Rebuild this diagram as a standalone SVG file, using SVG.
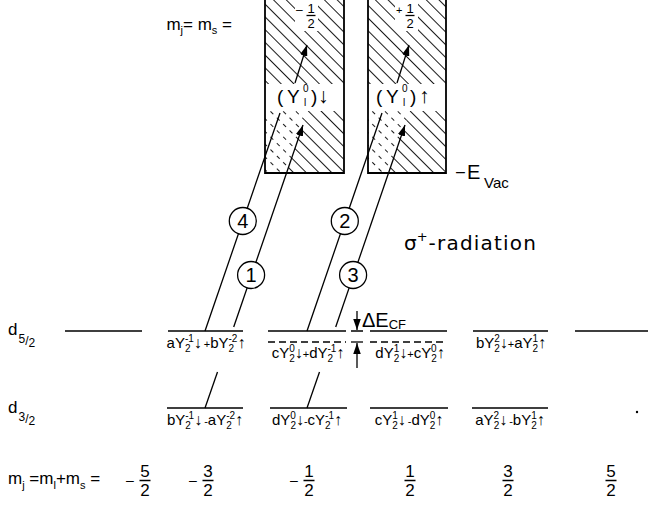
<svg xmlns="http://www.w3.org/2000/svg" width="648" height="506" viewBox="0 0 648 506">
<defs>
<pattern id="h" patternUnits="userSpaceOnUse" width="9" height="9" patternTransform="rotate(-45)"><line x1="4.5" y1="0" x2="4.5" y2="9" stroke="#000" stroke-width="0.9"/></pattern>
<pattern id="hd" patternUnits="userSpaceOnUse" width="9" height="9" patternTransform="rotate(-45)"><line x1="4.5" y1="0" x2="4.5" y2="4" stroke="#000" stroke-width="0.9"/></pattern>
<marker id="ah" viewBox="0 0 11 7.5" refX="11" refY="3.75" markerWidth="11" markerHeight="7.5" markerUnits="userSpaceOnUse" orient="auto"><path d="M0,0L11,3.75L0,7.5z" fill="#000"/></marker>
</defs>
<style>
.ln{stroke:#000;stroke-width:1.3;fill:none}
.box{stroke:#000;stroke-width:1.8;fill:none}
.t{font-family:"Liberation Sans",Arial,sans-serif;fill:#000}
.lb{font-size:15px}
.s{font-size:10px}
.ar{font-size:16px;font-weight:bold}
.pl{font-size:11px}
.big{font-size:17px}
.sb{font-size:11px}
.fr{font-size:17px}
.num{font-size:20px}
.rad{font-family:"DejaVu Sans",sans-serif;font-size:20px;fill:#000}
.circ{fill:#fff;stroke:#000;stroke-width:1.3}
</style>
<rect width="648" height="506" fill="#fff"/>

<g id="continuum-spin-down">
<rect x="265" y="0" width="79" height="84" fill="url(#h)"/>
<polygon points="265,111 307.9,111 286.4,173 265,173" fill="url(#hd)"/>
<polygon points="307.9,111 344,111 344,173 286.4,173" fill="url(#h)"/>
<rect x="295" y="0" width="23" height="31" fill="#fff"/>
<path class="box" d="M265,0V173H344V0"/>
<text class="t" x="296" y="14" font-size="12">–</text>
<text class="t" x="311" y="12.5" font-size="13" text-anchor="middle">1</text>
<line class="ln" x1="306.5" y1="15.5" x2="315.5" y2="15.5" stroke-width="1"/>
<text class="t" x="311" y="28" font-size="13" text-anchor="middle">2</text>
<text class="t" font-size="19"><tspan x="277" y="103">(</tspan><tspan x="287" y="103">Y</tspan><tspan x="303" y="92" font-size="10">0</tspan><tspan x="304" y="106" font-size="10">l</tspan><tspan x="311" y="103">)</tspan><tspan x="318" y="103" font-size="21" font-weight="bold">↓</tspan></text>
</g>

<g id="continuum-spin-up">
<rect x="368" y="0" width="78" height="84" fill="url(#h)"/>
<polygon points="368,111 409.9,111 388.4,173 368,173" fill="url(#hd)"/>
<polygon points="409.9,111 446,111 446,173 388.4,173" fill="url(#h)"/>
<rect x="395" y="0" width="23" height="31" fill="#fff"/>
<path class="box" d="M368,0V173H446V0"/>
<text class="t" x="396" y="14" font-size="11">+</text>
<text class="t" x="410" y="12.5" font-size="13" text-anchor="middle">1</text>
<line class="ln" x1="405.5" y1="15.5" x2="414.5" y2="15.5" stroke-width="1"/>
<text class="t" x="410" y="28" font-size="13" text-anchor="middle">2</text>
<text class="t" font-size="19"><tspan x="376" y="103">(</tspan><tspan x="386" y="103">Y</tspan><tspan x="402" y="92" font-size="10">0</tspan><tspan x="403" y="106" font-size="10">l</tspan><tspan x="410" y="103">)</tspan><tspan x="419" y="103" font-size="21" font-weight="bold">↑</tspan></text>
</g>

<g id="top-labels">
<text class="t big" x="232" y="30" text-anchor="end">m<tspan class="sb" dy="4">j</tspan><tspan dy="-4">= m</tspan><tspan class="sb" dy="4">s</tspan><tspan dy="-4"> =</tspan></text>
<text class="t" x="456" y="177" font-size="16">–</text>
<text class="t" x="467" y="179" font-size="20">E</text>
<text class="t" x="484" y="188" font-size="15">Vac</text>
<text class="rad" x="404" y="250">σ<tspan font-size="13" dy="-9">+</tspan><tspan dy="9" dx="1" letter-spacing="1.2">-radiation</tspan></text>
</g>

<g id="level-d52">
<text class="t" font-size="17" x="8" y="335">d<tspan font-size="12" dx="1" dy="8">5</tspan><tspan font-size="12" dy="2">/</tspan><tspan font-size="12" dy="2">2</tspan></text>
<path class="ln" d="M65,331H142M168,331H243M268,331H346M351,331H363M370,331H447M473,331H548M575,331H648"/>
<path class="ln" d="M268,342H346M370,342H447" stroke-dasharray="7 4"/>
<path class="ln" d="M351,342H363"/>
<text class="t lb" x="206" y="348" text-anchor="middle">aY<tspan class="s" dy="4">2</tspan><tspan class="s" dx="-5.6" dy="-10">-1</tspan><tspan class="ar" dy="6">↓</tspan><tspan class="pl" dx="2">+</tspan>bY<tspan class="s" dy="4">2</tspan><tspan class="s" dx="-5.6" dy="-10">-2</tspan><tspan class="ar" dy="6">↑</tspan></text>
<text class="t lb" x="308" y="358" text-anchor="middle">cY<tspan class="s" dy="4">2</tspan><tspan class="s" dx="-5.6" dy="-10">0</tspan><tspan class="ar" dy="6">↓</tspan><tspan class="pl">+</tspan>dY<tspan class="s" dy="4">2</tspan><tspan class="s" dx="-5.6" dy="-10">-1</tspan><tspan class="ar" dy="6">↑</tspan></text>
<text class="t lb" x="410" y="358" text-anchor="middle">dY<tspan class="s" dy="4">2</tspan><tspan class="s" dx="-5.6" dy="-10">1</tspan><tspan class="ar" dy="6">↓</tspan><tspan class="pl">+</tspan>cY<tspan class="s" dy="4">2</tspan><tspan class="s" dx="-5.6" dy="-10">0</tspan><tspan class="ar" dy="6">↑</tspan></text>
<text class="t lb" x="511" y="348" text-anchor="middle">bY<tspan class="s" dy="4">2</tspan><tspan class="s" dx="-5.6" dy="-10">2</tspan><tspan class="ar" dy="6">↓</tspan><tspan class="pl">+</tspan>aY<tspan class="s" dy="4">2</tspan><tspan class="s" dx="-5.6" dy="-10">1</tspan><tspan class="ar" dy="6">↑</tspan></text>
<line class="ln" x1="357" y1="311" x2="357" y2="330" marker-end="url(#ah)"/>
<line class="ln" x1="357" y1="368" x2="357" y2="343" marker-end="url(#ah)"/>
<text class="t" x="362" y="327" font-size="20">ΔE<tspan font-size="13" dy="2">CF</tspan></text>
</g>

<g id="level-d32">
<text class="t" font-size="17" x="8" y="413">d<tspan font-size="12" dx="1" dy="8">3</tspan><tspan font-size="12" dy="2">/</tspan><tspan font-size="12" dy="2">2</tspan></text>
<path class="ln" d="M167,408H243M270,408H347M370,408H448M472,408H548"/>
<text class="t lb" x="205" y="425" text-anchor="middle">bY<tspan class="s" dy="4">2</tspan><tspan class="s" dx="-5.6" dy="-10">-1</tspan><tspan class="ar" dy="6">↓</tspan><tspan class="pl" dx="2">-</tspan>aY<tspan class="s" dy="4">2</tspan><tspan class="s" dx="-5.6" dy="-10">-2</tspan><tspan class="ar" dy="6">↑</tspan></text>
<text class="t lb" x="307" y="425" text-anchor="middle">dY<tspan class="s" dy="4">2</tspan><tspan class="s" dx="-5.6" dy="-10">0</tspan><tspan class="ar" dy="6">↓</tspan><tspan class="pl">-</tspan>cY<tspan class="s" dy="4">2</tspan><tspan class="s" dx="-5.6" dy="-10">-1</tspan><tspan class="ar" dy="6">↑</tspan></text>
<text class="t lb" x="409" y="425" text-anchor="middle">cY<tspan class="s" dy="4">2</tspan><tspan class="s" dx="-5.6" dy="-10">1</tspan><tspan class="ar" dy="6">↓</tspan><tspan class="pl" dx="2">-</tspan>dY<tspan class="s" dy="4">2</tspan><tspan class="s" dx="-5.6" dy="-10">0</tspan><tspan class="ar" dy="6">↑</tspan></text>
<text class="t lb" x="510" y="425" text-anchor="middle">aY<tspan class="s" dy="4">2</tspan><tspan class="s" dx="-5.6" dy="-10">2</tspan><tspan class="ar" dy="6">↓</tspan><tspan class="pl" dx="2">-</tspan>bY<tspan class="s" dy="4">2</tspan><tspan class="s" dx="-5.6" dy="-10">1</tspan><tspan class="ar" dy="6">↑</tspan></text>
<circle cx="637" cy="412" r="1.2" fill="#000"/>
</g>

<g id="transitions">
<path class="ln" d="M205,331L280,113"/>
<path class="ln" d="M307,331L382,113"/>
<path class="ln" d="M205,408L217.5,372"/>
<path class="ln" d="M233.7,327L303,125" marker-end="url(#ah)"/>
<path class="ln" d="M307,408L319.5,372"/>
<path class="ln" d="M335.7,327L405,125" marker-end="url(#ah)"/>
<path class="ln" d="M295,83L307,45" marker-end="url(#ah)"/>
<path class="ln" d="M397,83L409,45" marker-end="url(#ah)"/>
</g>

<g id="transition-4"><circle class="circ" cx="242.8" cy="221" r="13.5"/><text class="t num" x="242.8" y="228" text-anchor="middle">4</text></g>
<g id="transition-1"><circle class="circ" cx="251.1" cy="275" r="13.5"/><text class="t num" x="251.1" y="282" text-anchor="middle">1</text></g>
<g id="transition-2"><circle class="circ" cx="344.8" cy="221" r="13.5"/><text class="t num" x="344.8" y="228" text-anchor="middle">2</text></g>
<g id="transition-3"><circle class="circ" cx="353.1" cy="275" r="13.5"/><text class="t num" x="353.1" y="282" text-anchor="middle">3</text></g>

<g id="mj-axis">
<text class="t big" x="8" y="484">m<tspan class="sb" dy="5">j</tspan><tspan dy="-5"> =m</tspan><tspan class="sb" dy="5">l</tspan><tspan dy="-5">+m</tspan><tspan class="sb" dy="5">s</tspan><tspan dy="-5"> =</tspan></text>
<g class="t fr" text-anchor="middle">
<text x="130" y="485" font-size="14">–</text>
<text x="145" y="477">5</text><text x="145" y="496">2</text>
<text x="193" y="485" font-size="14">–</text>
<text x="208" y="477">3</text><text x="208" y="496">2</text>
<text x="294" y="485" font-size="14">–</text>
<text x="309" y="477">1</text><text x="309" y="496">2</text>
<text x="410" y="477">1</text><text x="410" y="496">2</text>
<text x="508" y="477">3</text><text x="508" y="496">2</text>
<text x="611" y="477">5</text><text x="611" y="496">2</text>
</g>
<path class="ln" stroke-width="1.1" d="M139.5,480.5h11M202.5,480.5h11M303.5,480.5h11M404.5,480.5h11M502.5,480.5h11M605.5,480.5h11"/>
</g>
</svg>
